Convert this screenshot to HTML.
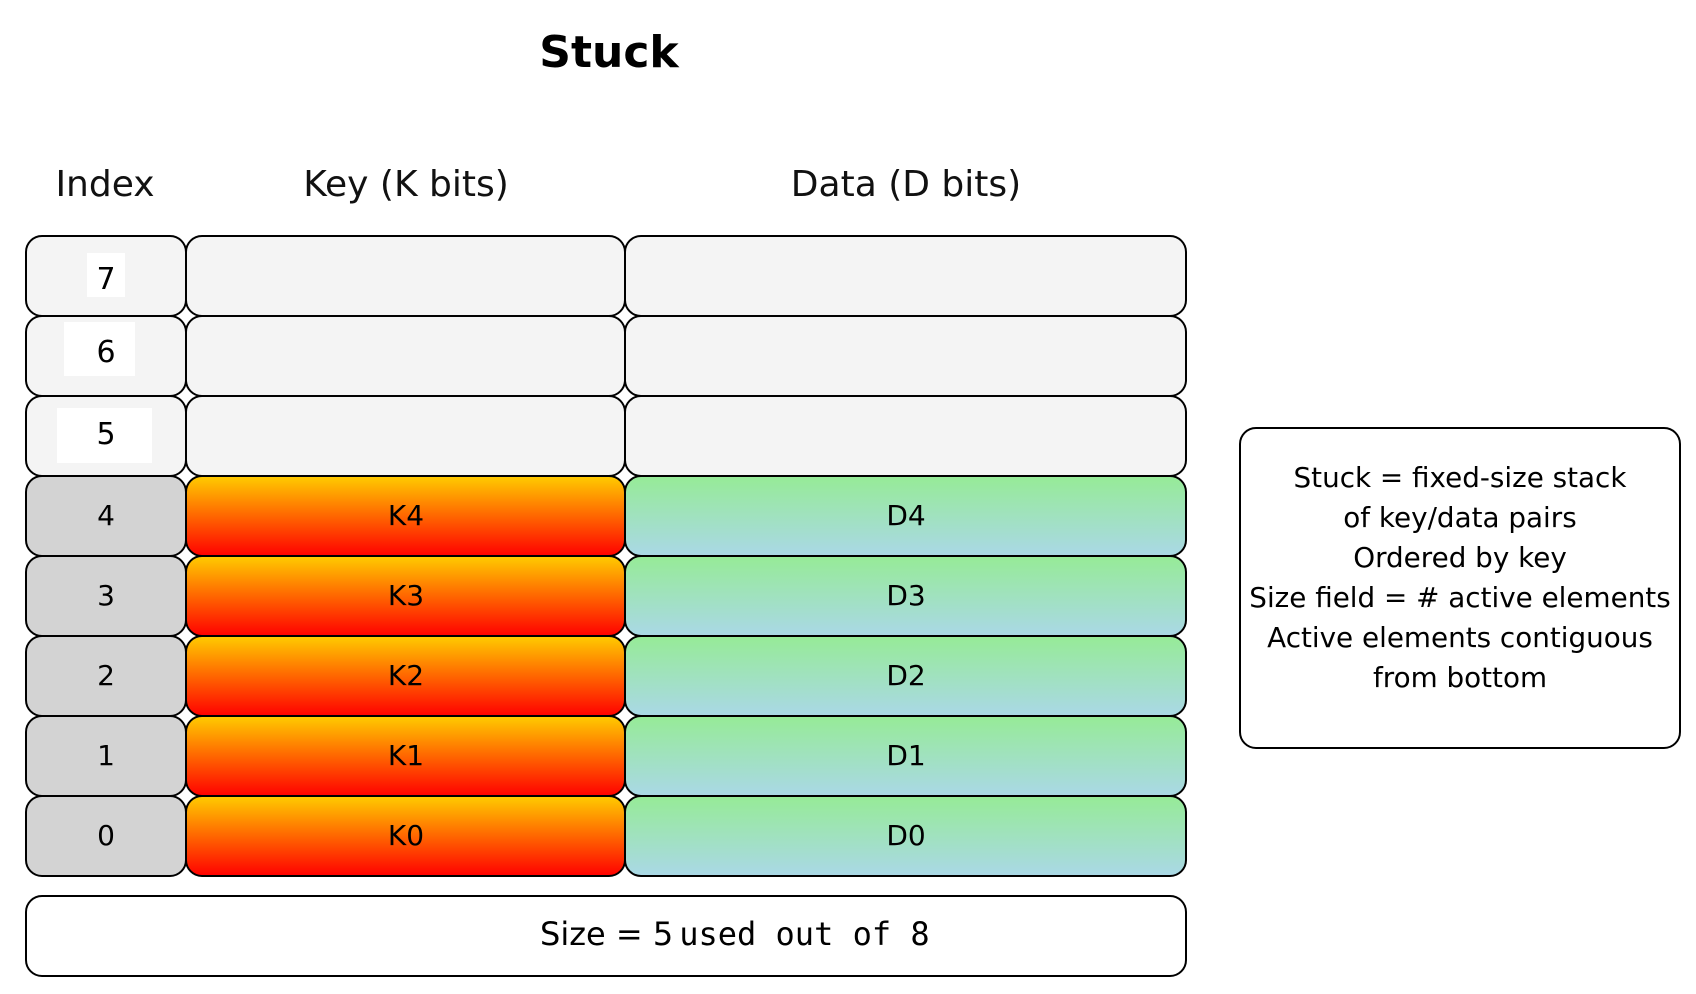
<!DOCTYPE html>
<html><head><meta charset="utf-8"><style>
html,body{margin:0;padding:0;background:#fff;}
svg{display:block;font-family:"DejaVu Sans","Liberation Sans",sans-serif;}
</style></head><body>
<svg width="1696" height="994" viewBox="0 0 1696 994" xmlns="http://www.w3.org/2000/svg">
<defs>
<linearGradient id="kg" x1="0" y1="0" x2="0" y2="1"><stop offset="0" stop-color="#ffcc00"/><stop offset="1" stop-color="#ff0000"/></linearGradient>
<linearGradient id="dg" x1="0" y1="0" x2="0" y2="1"><stop offset="0" stop-color="#96eb96"/><stop offset="1" stop-color="#aad8e6"/></linearGradient>
</defs>
<text x="609" y="67" font-size="44" font-weight="bold" text-anchor="middle" fill="#000">Stuck</text>
<g font-size="36" text-anchor="middle" fill="#111">
<text x="105" y="196">Index</text>
<text x="406" y="196">Key (K bits)</text>
<text x="906" y="196">Data (D bits)</text>
</g>
<g stroke="#000" stroke-width="2">
<rect x="26" y="236" width="160" height="80" rx="16" fill="#f4f4f4"/>
<rect x="186" y="236" width="439" height="80" rx="16" fill="#f4f4f4"/>
<rect x="625" y="236" width="561" height="80" rx="16" fill="#f4f4f4"/>
<rect x="26" y="316" width="160" height="80" rx="16" fill="#f4f4f4"/>
<rect x="186" y="316" width="439" height="80" rx="16" fill="#f4f4f4"/>
<rect x="625" y="316" width="561" height="80" rx="16" fill="#f4f4f4"/>
<rect x="26" y="396" width="160" height="80" rx="16" fill="#f4f4f4"/>
<rect x="186" y="396" width="439" height="80" rx="16" fill="#f4f4f4"/>
<rect x="625" y="396" width="561" height="80" rx="16" fill="#f4f4f4"/>
<rect x="26" y="476" width="160" height="80" rx="16" fill="#d3d3d3"/>
<rect x="186" y="476" width="439" height="80" rx="16" fill="url(#kg)"/>
<rect x="625" y="476" width="561" height="80" rx="16" fill="url(#dg)"/>
<rect x="26" y="556" width="160" height="80" rx="16" fill="#d3d3d3"/>
<rect x="186" y="556" width="439" height="80" rx="16" fill="url(#kg)"/>
<rect x="625" y="556" width="561" height="80" rx="16" fill="url(#dg)"/>
<rect x="26" y="636" width="160" height="80" rx="16" fill="#d3d3d3"/>
<rect x="186" y="636" width="439" height="80" rx="16" fill="url(#kg)"/>
<rect x="625" y="636" width="561" height="80" rx="16" fill="url(#dg)"/>
<rect x="26" y="716" width="160" height="80" rx="16" fill="#d3d3d3"/>
<rect x="186" y="716" width="439" height="80" rx="16" fill="url(#kg)"/>
<rect x="625" y="716" width="561" height="80" rx="16" fill="url(#dg)"/>
<rect x="26" y="796" width="160" height="80" rx="16" fill="#d3d3d3"/>
<rect x="186" y="796" width="439" height="80" rx="16" fill="url(#kg)"/>
<rect x="625" y="796" width="561" height="80" rx="16" fill="url(#dg)"/>
<rect x="26" y="896" width="1160" height="80" rx="16" fill="#fff"/>
<rect x="1240" y="428" width="440" height="320" rx="16" fill="#fff"/>
</g>
<g fill="#fff">
<rect x="87" y="253" width="38" height="44"/>
<rect x="64" y="322" width="71" height="54"/>
<rect x="57" y="408" width="95" height="55"/>
</g>
<g font-size="30" text-anchor="middle" fill="#000">
<text x="106" y="289">7</text>
<text x="106" y="362">6</text>
<text x="106" y="444">5</text>
</g>
<g font-size="28" text-anchor="middle" fill="#000">
<text x="106" y="525">4</text>
<text x="106" y="605">3</text>
<text x="106" y="685">2</text>
<text x="106" y="765">1</text>
<text x="106" y="845">0</text>
<text x="406" y="525">K4</text>
<text x="406" y="605">K3</text>
<text x="406" y="685">K2</text>
<text x="406" y="765">K1</text>
<text x="406" y="845">K0</text>
<text x="906" y="525">D4</text>
<text x="906" y="605">D3</text>
<text x="906" y="685">D2</text>
<text x="906" y="765">D1</text>
<text x="906" y="845">D0</text>
</g>
<text x="540" y="945" font-size="32" fill="#000">Size = 5<tspan font-family="DejaVu Sans Mono, Liberation Mono, monospace" dx="6">used out of 8</tspan></text>
<g font-size="27.8" text-anchor="middle" fill="#000">
<text x="1460" y="487">Stuck = fixed-size stack</text>
<text x="1460" y="527">of key/data pairs</text>
<text x="1460" y="567">Ordered by key</text>
<text x="1460" y="607">Size field = # active elements</text>
<text x="1460" y="647">Active elements contiguous</text>
<text x="1460" y="687">from bottom</text>
</g>
</svg>
</body></html>
